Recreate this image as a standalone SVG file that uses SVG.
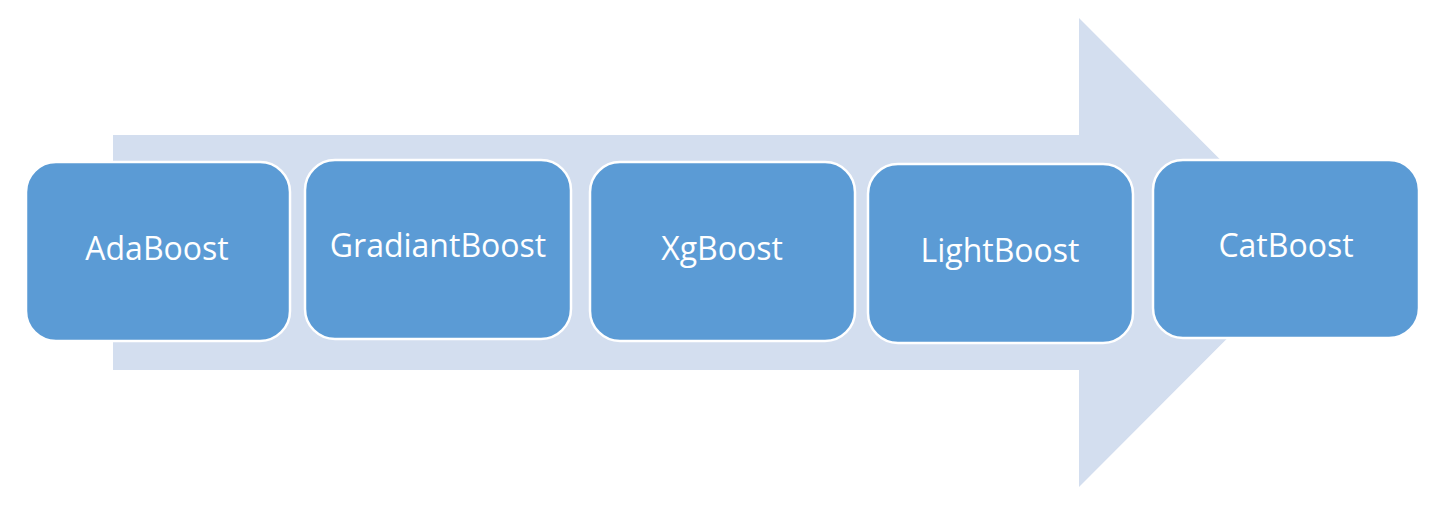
<svg xmlns="http://www.w3.org/2000/svg" width="1442" height="506" viewBox="0 0 1442 506">
<style>
.box{fill:#5B9BD5;stroke:#FFFFFF;stroke-width:2.5}
.lbl{font-family:"Open Sans","Noto Sans",sans-serif;font-size:32px;fill:#FFFFFF;text-anchor:middle}
</style>
<rect width="1442" height="506" fill="#FFFFFF"/>
<g id="arrow">
<polygon points="113,135 1079,135 1079,18 1313,252.5 1079,487 1079,370 113,370" fill="#D3DEEF"/>
</g>
<g id="connectors"></g>
<g id="n1"><rect class="box" x="26" y="162" width="264" height="179" rx="30"/><text class="lbl" x="157" y="260">AdaBoost</text></g>
<g id="n2"><rect class="box" x="305" y="160" width="266" height="179" rx="30"/><text class="lbl" x="438" y="257">GradiantBoost</text></g>
<g id="n3"><rect class="box" x="590" y="162" width="265" height="179" rx="30"/><text class="lbl" x="722" y="260">XgBoost</text></g>
<g id="n4"><rect class="box" x="868" y="164" width="265" height="179" rx="30"/><text class="lbl" x="1000" y="262">LightBoost</text></g>
<g id="n5"><rect class="box" x="1153" y="160" width="266" height="178" rx="30"/><text class="lbl" x="1286" y="257">CatBoost</text></g>
</svg>
